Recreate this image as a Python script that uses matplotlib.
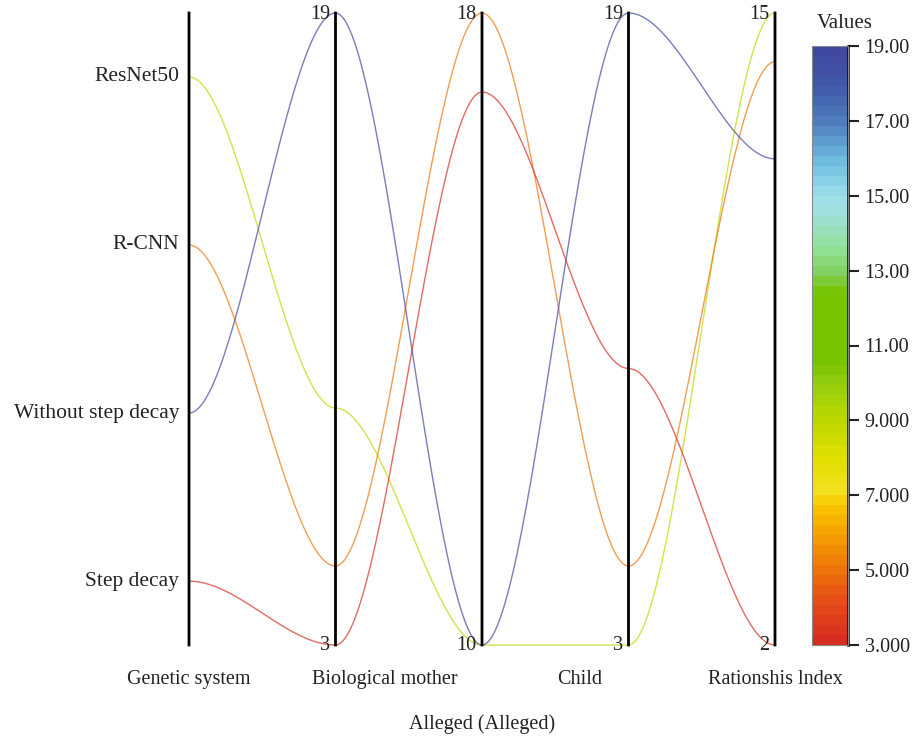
import matplotlib
matplotlib.use('Agg')
import matplotlib.pyplot as plt
import numpy as np
from matplotlib.colors import LinearSegmentedColormap, Normalize

plt.rcParams['font.family'] = ['Liberation Serif', 'DejaVu Serif']

# data: one record per model, one value per parallel axis
models = ['ResNet50', 'R-CNN', 'Without step decay', 'Step decay']
model_order = ['Step decay', 'Without step decay', 'R-CNN', 'ResNet50']  # bottom -> top
bio_mother = [9, 5, 19, 3]
alleged = [10, 18, 10, 17]
child = [3, 5, 19, 10]
ratio_index = [15, 14, 12, 2]

bottom_labels = ['Genetic system', 'Biological mother', 'Child', 'Rationshis lndex']
cbar_ticks = [3, 5, 7, 9, 11, 13, 15, 17, 19]

cmap_stops = [
    (0.0, '#d62d20'), (0.0625, '#e44a18'), (0.125, '#ef7808'), (0.19, '#f7a800'),
    (0.23, '#fac800'), (0.25, '#f4e020'), (0.31, '#e0e000'), (0.375, '#bcd800'),
    (0.44, '#90cc10'), (0.47, '#78c400'), (0.59, '#78c400'), (0.625, '#80d060'),
    (0.66, '#90e090'), (0.72, '#a0e0d8'), (0.75, '#a0e0ec'), (0.81, '#70c0e0'),
    (0.875, '#5080c0'), (0.94, '#4058a8'), (1.0, '#4048a0'),
]
cmap = LinearSegmentedColormap.from_list('vals', cmap_stops, N=60)

fig = plt.figure(figsize=(9.15, 7.4), dpi=100)
ax = fig.add_axes([189 / 915, 95 / 740, 586 / 915, 632 / 740])

# normalise every axis to 0..1
cat_pad = 0.38
cat_pos = [model_order.index(m) for m in models]
cols = [np.array(cat_pos, float)]
ranges = [(-cat_pad, len(model_order) - 1 + cat_pad)]
for arr in (bio_mother, alleged, child, ratio_index):
    a = np.array(arr, float)
    cols.append(a)
    ranges.append((a.min(), a.max()))
norm_cols = [(c - lo) / (hi - lo) for c, (lo, hi) in zip(cols, ranges)]

cnorm = Normalize(min(bio_mother), max(bio_mother))
t = np.linspace(0, 1, 60)
s = 3 * t ** 2 - 2 * t ** 3
for k in range(len(models)):
    xs, ys = [], []
    for i in range(len(norm_cols) - 1):
        y0, y1 = norm_cols[i][k], norm_cols[i + 1][k]
        xs.append(i + t)
        ys.append(y0 + (y1 - y0) * s)
    ax.plot(np.concatenate(xs), np.concatenate(ys), color=cmap(cnorm(bio_mother[k])),
            alpha=0.7, lw=1.0, clip_on=False, zorder=2)

for i in range(len(norm_cols)):
    ax.axvline(i, color='black', lw=2.0, clip_on=False, zorder=3, snap=False)

# category labels on first axis
for j, name in enumerate(model_order):
    yn = (j + cat_pad) / (len(model_order) - 1 + 2 * cat_pad)
    ax.annotate(name, (0, yn), xytext=(-7, 0), textcoords='offset points',
                ha='right', va='center', fontsize=15.5, color='#222222')

# min / max labels on the numeric axes
for i in range(1, len(norm_cols)):
    lo, hi = ranges[i]
    ax.annotate(f'{hi:g}', (i, 1), xytext=(-4, -1), textcoords='offset points',
                ha='right', va='center', fontsize=14.5, color='#222222')
    ax.annotate(f'{lo:g}', (i, 0), xytext=(-4, 0), textcoords='offset points',
                ha='right', va='center', fontsize=14.5, color='#222222')

ax.set_xlim(0, len(norm_cols) - 1)
ax.set_ylim(0, 1)
ax.set_yticks([])
ax.set_xticks(np.linspace(0, len(norm_cols) - 1, len(bottom_labels)))
ax.set_xticklabels(bottom_labels, fontsize=14.5, color='#222222')
ax.tick_params(axis='x', length=0, pad=18)
ax.set_xlabel('Alleged (Alleged)', fontsize=14.5, color='#222222', labelpad=18)
for sp in ax.spines.values():
    sp.set_visible(False)

# colour bar
cax = fig.add_axes([812 / 915, 95 / 740, 36 / 915, 599 / 740])
sm = plt.cm.ScalarMappable(norm=cnorm, cmap=cmap)
cb = fig.colorbar(sm, cax=cax)
cb.set_ticks(cbar_ticks)
cb.set_ticklabels([f'{v:.2f}' if v >= 10 else f'{v:.3f}' for v in cbar_ticks])
cb.outline.set_edgecolor('#888888')
cb.outline.set_linewidth(0.8)
cax.tick_params(length=8, width=1.5, labelsize=14.5, colors='#222222', pad=4)
cax.plot([1, 1], [0, 1], transform=cax.transAxes, color='black', lw=1.8, clip_on=False)
fig.text(817 / 915, 1 - 23 / 740, 'Values', fontsize=15, color='#222222', ha='left', va='center')

fig.savefig('out.png', dpi=100)
